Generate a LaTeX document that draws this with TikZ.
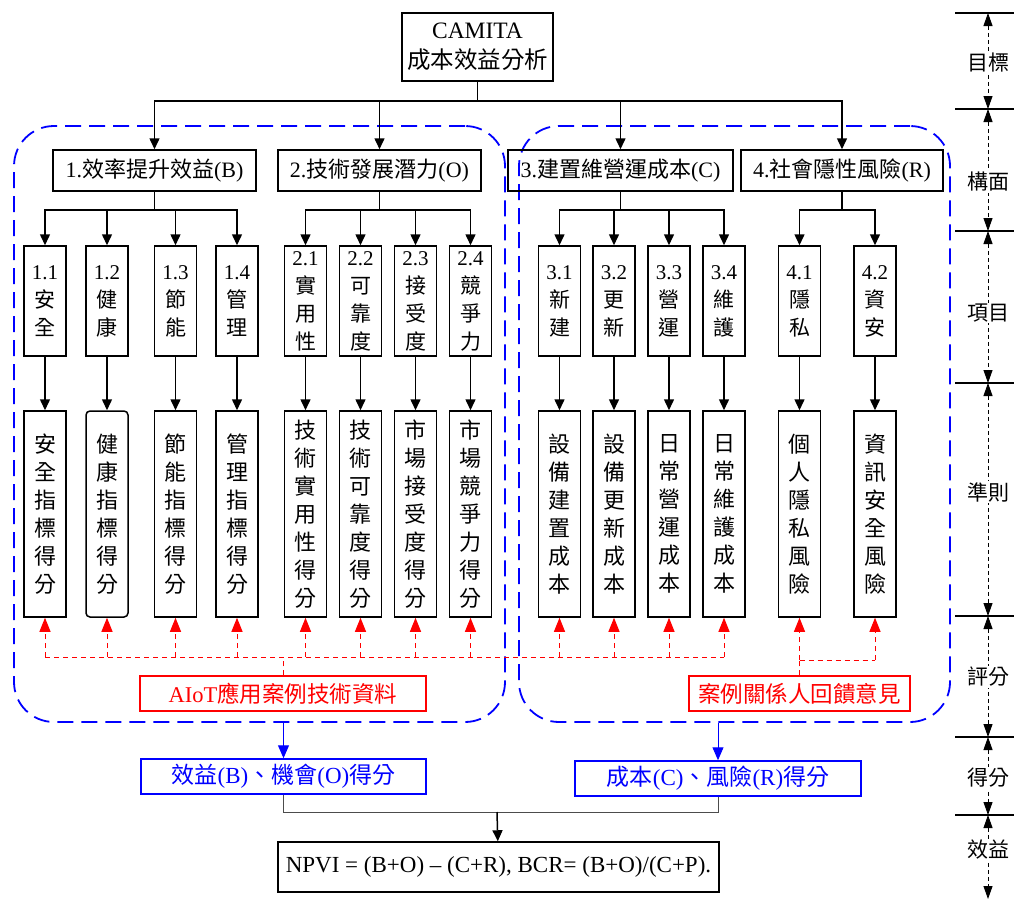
\documentclass[tikz,border=0pt]{standalone}
\usepackage{fontspec}
\setmainfont{Liberation Serif}
\newfontfamily\cjk{Noto Sans CJK TC}
\usetikzlibrary{arrows.meta}
\definecolor{pureblue}{RGB}{0,0,255}
\definecolor{purered}{RGB}{255,0,0}
\begin{document}
\begin{tikzpicture}[x=1pt,y=-1pt,line width=1.5pt,
  arr/.style={-{Triangle[length=11pt,width=10pt]}},
  blk/.style={draw,line width=1.5pt,inner sep=0pt,align=center},
  dim/.style={blk,minimum height=41pt,font=\fontsize{22}{26}\selectfont},
  item/.style={blk,minimum width=42pt,minimum height=110pt,font=\cjk\fontsize{21}{28}\selectfont},
  crit/.style={blk,minimum width=42pt,minimum height=206pt,font=\cjk\fontsize{22}{28}\selectfont},
  redbox/.style={draw=purered,text=purered,line width=1.5pt,inner sep=0pt,minimum height=35pt,font=\fontsize{22.5}{26}\selectfont},
  bluebox/.style={draw=pureblue,text=pureblue,line width=1.5pt,inner sep=0pt,minimum height=35pt,font=\fontsize{23}{26}\selectfont},
  reddash/.style={draw=purered,line width=1pt,dash pattern=on 5pt off 4pt},
  redarr/.style={reddash,-{Triangle[length=14pt,width=11pt]}},
  bluegroup/.style={draw=pureblue,line width=1.8pt,dash pattern=on 16pt off 8pt,rounded corners=40pt,inner sep=0pt},
  bluearr/.style={draw=pureblue,line width=1pt,-{Triangle[length=13pt,width=11pt]}},
  grayline/.style={draw=black!70,line width=0.9pt},
  scalearr/.style={line width=0.9pt,dash pattern=on 4pt off 3pt,{Triangle[length=13pt,width=9pt]}-{Triangle[length=13pt,width=9pt]}},
  scalelbl/.style={fill=white,inner sep=1pt,font=\cjk\fontsize{21}{24}\selectfont}
]
\useasboundingbox (0,0) rectangle (1014,902);

% group frames
\node[bluegroup,minimum width=491pt,minimum height=596pt] (gL) at (259.5,424) {};
\node[bluegroup,minimum width=431pt,minimum height=596pt] (gR) at (734.5,424) {};

% top
\node[blk,minimum width=151pt,minimum height=68pt,font=\fontsize{23.5}{30}\selectfont] (top) at (477.5,47) {CAMITA\\{\cjk 成本效益分析}};

% dimensions
\node[dim,minimum width=203pt] (d1) at (154.5,170.5) {1.{\cjk 效率提升效益}(B)};
\node[dim,minimum width=203pt] (d2) at (379.5,170.5) {2.{\cjk 技術發展潛力}(O)};
\node[dim,minimum width=225pt] (d3) at (620.5,170.5) {3.{\cjk 建置維營運成本}(C)};
\node[dim,minimum width=202pt] (d4) at (842,170.5) {4.{\cjk 社會隱性風險}(R)};

% items
\node[item] (i11) at (45,301) {{\rmfamily 1.1}\\安\\全};
\node[item] (i12) at (107,301) {{\rmfamily 1.2}\\健\\康};
\node[item] (i13) at (175.5,301) {{\rmfamily 1.3}\\節\\能};
\node[item] (i14) at (237,301) {{\rmfamily 1.4}\\管\\理};
\node[item] (i21) at (305.5,301) {{\rmfamily 2.1}\\實\\用\\性};
\node[item] (i22) at (360.5,301) {{\rmfamily 2.2}\\可\\靠\\度};
\node[item] (i23) at (415.5,301) {{\rmfamily 2.3}\\接\\受\\度};
\node[item] (i24) at (470.5,301) {{\rmfamily 2.4}\\競\\爭\\力};
\node[item] (i31) at (559.5,301) {{\rmfamily 3.1}\\新\\建};
\node[item] (i32) at (614,301) {{\rmfamily 3.2}\\更\\新};
\node[item] (i33) at (669,301) {{\rmfamily 3.3}\\營\\運};
\node[item] (i34) at (724,301) {{\rmfamily 3.4}\\維\\護};
\node[item] (i41) at (799.5,301) {{\rmfamily 4.1}\\隱\\私};
\node[item] (i42) at (875,301) {{\rmfamily 4.2}\\資\\安};

% criteria
\node[crit] (c11) at (45,514) {安\\全\\指\\標\\得\\分};
\node[crit,rounded corners=4pt] (c12) at (107,514) {健\\康\\指\\標\\得\\分};
\node[crit] (c13) at (175.5,514) {節\\能\\指\\標\\得\\分};
\node[crit] (c14) at (237,514) {管\\理\\指\\標\\得\\分};
\node[crit] (c21) at (305.5,514) {技\\術\\實\\用\\性\\得\\分};
\node[crit] (c22) at (360.5,514) {技\\術\\可\\靠\\度\\得\\分};
\node[crit] (c23) at (415.5,514) {市\\場\\接\\受\\度\\得\\分};
\node[crit] (c24) at (470.5,514) {市\\場\\競\\爭\\力\\得\\分};
\node[crit] (c31) at (559.5,514) {設\\備\\建\\置\\成\\本};
\node[crit] (c32) at (614,514) {設\\備\\更\\新\\成\\本};
\node[crit] (c33) at (669,514) {日\\常\\營\\運\\成\\本};
\node[crit] (c34) at (724,514) {日\\常\\維\\護\\成\\本};
\node[crit] (c41) at (799.5,514) {個\\人\\隱\\私\\風\\險};
\node[crit] (c42) at (875,514) {資\\訊\\安\\全\\風\\險};

% sources
\node[redbox,minimum width=286pt] (aiot) at (283,693.5) {AIoT{\cjk 應用案例技術資料}};
\node[redbox,minimum width=221pt] (fb) at (799.5,693.5) {\cjk 案例關係人回饋意見};

% scores
\node[bluebox,minimum width=285pt] (bo) at (283.5,776.5) {{\cjk 效益}(B){\cjk 、機會}(O){\cjk 得分}};
\node[bluebox,minimum width=286pt] (cr) at (718,778.5) {{\cjk 成本}(C){\cjk 、風險}(R){\cjk 得分}};

% result
\node[blk,minimum width=441pt,minimum height=50pt,font=\fontsize{23}{26}\selectfont] (npv) at (498.5,867) {NPVI = (B+O) – (C+R), BCR= (B+O)/(C+P).};

% helper coordinates
\coordinate (j0) at (477.5,101);
\coordinate (L1) at (0,210);
\coordinate (R1) at (0,657);
\coordinate (R2) at (0,660);
\coordinate (G) at (497,812);

% tree connectors
\draw (top) -- (j0);
\foreach \n in {d1,d2,d3,d4} \draw[arr] (j0) -| (\n);
\draw (d1) -- (d1.south |- L1);
\foreach \n in {i11,i12,i13,i14} \draw[arr] (d1.south |- L1) -| (\n);
\draw (d2) -- (d2.south |- L1);
\foreach \n in {i21,i22,i23,i24} \draw[arr] (d2.south |- L1) -| (\n);
\draw (d3) -- (d3.south |- L1);
\foreach \n in {i31,i32,i33,i34} \draw[arr] (d3.south |- L1) -| (\n);
\draw (d4) -- (d4.south |- L1);
\foreach \n in {i41,i42} \draw[arr] (d4.south |- L1) -| (\n);
\foreach \n in {11,12,13,14,21,22,23,24,31,32,33,34,41,42} \draw[arr] (i\n) -- (c\n);

% red feedback
\draw[reddash] (c11.south |- R1) -- (c34.south |- R1);
\foreach \n in {11,12,13,14,21,22,23,24,31,32,33,34} \draw[redarr] (c\n.south |- R1) -- (c\n);
\draw[reddash] (aiot) -- (aiot.north |- R1);
\draw[reddash] (c41.south |- R2) -- (c42.south |- R2);
\foreach \n in {41,42} \draw[redarr] (c\n.south |- R2) -- (c\n);
\draw[reddash] (fb) -- (fb.north |- R2);

% blue arrows
\draw[bluearr] (bo.north |- gL.south) -- (bo);
\draw[bluearr] (cr.north |- gR.south) -- (cr);

% final
\draw[grayline] (bo) |- (G) -| (cr);
\draw[arr] (G) -- (npv);

% scale
\foreach \y in {13,109,231,383,616,737,815} \draw (955,\y) -- (1014,\y);
\foreach \a/\b in {13/109,109/231,231/383,383/616,616/737,737/815,815/899}
  \draw[scalearr] (988,\a) -- (988,\b);
\node[scalelbl] (s1) at (988,63) {目標};
\node[scalelbl] (s2) at (988,182) {構面};
\node[scalelbl] (s3) at (988,313) {項目};
\node[scalelbl] (s4) at (988,492) {準則};
\node[scalelbl] (s5) at (988,677) {評分};
\node[scalelbl] (s6) at (988,778) {得分};
\node[scalelbl] (s7) at (988,850) {效益};
\end{tikzpicture}
\end{document}
